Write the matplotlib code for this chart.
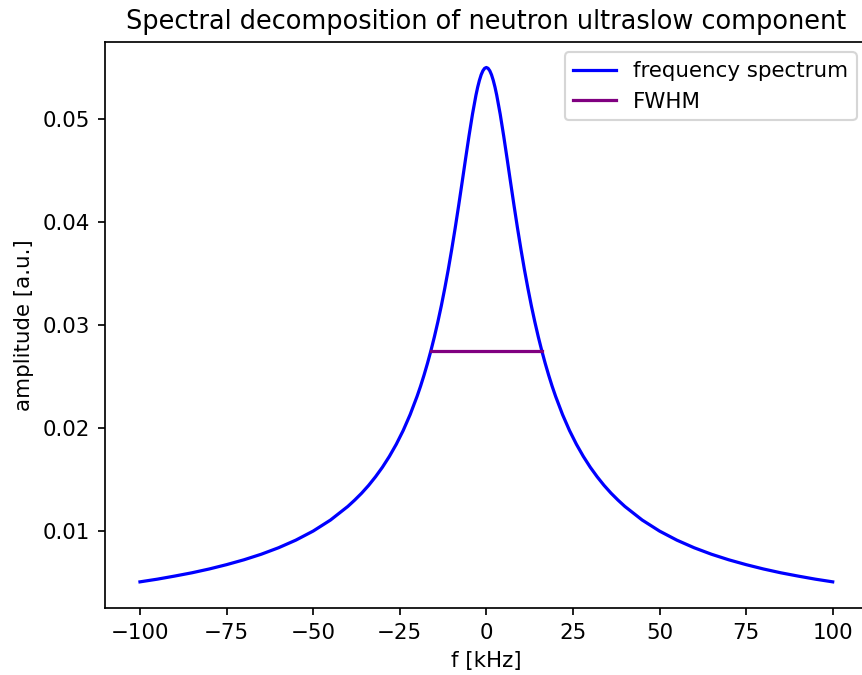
import matplotlib
matplotlib.use("Agg")
import matplotlib.pyplot as plt

freq_khz = [-100, -95, -90, -85, -80, -75, -70, -65, -60, -55, -50, -45, -40, -38,
            -36, -34, -32, -30, -28, -26, -24, -22, -20, -19, -18, -17, -16, -15,
            -14, -13, -12, -11, -10, -9, -8, -7, -6, -5, -4, -3, -2.5, -2, -1.5,
            -1, -0.5, 0, 0.5, 1, 1.5, 2, 2.5, 3, 4, 5, 6, 7, 8, 9, 10, 11, 12, 13,
            14, 15, 16, 17, 18, 19, 20, 22, 24, 26, 28, 30, 32, 34, 36, 38, 40, 45,
            50, 55, 60, 65, 70, 75, 80, 85, 90, 95, 100]
amplitude = [0.00506, 0.00532, 0.00562, 0.00594, 0.00631, 0.00673, 0.00720, 0.00774,
             0.00837, 0.00911, 0.00999, 0.01106, 0.01238, 0.01300,
             0.01367, 0.01442, 0.01526, 0.01619, 0.01724, 0.01842, 0.01976, 0.02130,
             0.02307, 0.02405, 0.02512, 0.02627, 0.02751, 0.02885,
             0.03030, 0.03186, 0.03356, 0.03537, 0.03733, 0.03940, 0.04158, 0.04384,
             0.04613, 0.04837, 0.05047, 0.05231, 0.05309, 0.05375, 0.05429,
             0.05468, 0.05492, 0.05500, 0.05492, 0.05468, 0.05429, 0.05375, 0.05309,
             0.05231, 0.05047, 0.04837, 0.04613, 0.04384, 0.04158, 0.03940, 0.03733,
             0.03537, 0.03356, 0.03186,
             0.03030, 0.02885, 0.02751, 0.02627, 0.02512, 0.02405, 0.02307, 0.02130,
             0.01976, 0.01842, 0.01724, 0.01619, 0.01526, 0.01442, 0.01367, 0.01300,
             0.01238, 0.01106,
             0.00999, 0.00911, 0.00837, 0.00774, 0.00720, 0.00673, 0.00631, 0.00594,
             0.00562, 0.00532, 0.00506]

fwhm_x = [-16.0, 16.0]
fwhm_y = [0.0275, 0.0275]

DPI = 154
fig = plt.figure(figsize=(862 / DPI, 675 / DPI), dpi=DPI)
ax = fig.add_axes([0.1222, 0.0999, 0.884, 0.8382])
ax.plot(freq_khz, amplitude, color="blue", label="frequency spectrum")
ax.plot(fwhm_x, fwhm_y, color="purple", label="FWHM")
ax.set_xlim(-110, 110)
ax.set_ylim(0.002563, 0.057497)
ax.set_xticks([-100, -75, -50, -25, 0, 25, 50, 75, 100])
ax.set_yticks([0.01, 0.02, 0.03, 0.04, 0.05])
ax.set_xlabel("f [kHz]")
ax.set_ylabel("amplitude [a.u.]")
ax.set_title("Spectral decomposition of neutron ultraslow component")
ax.legend(loc="upper right")
fig.savefig("out.png", dpi=DPI)
